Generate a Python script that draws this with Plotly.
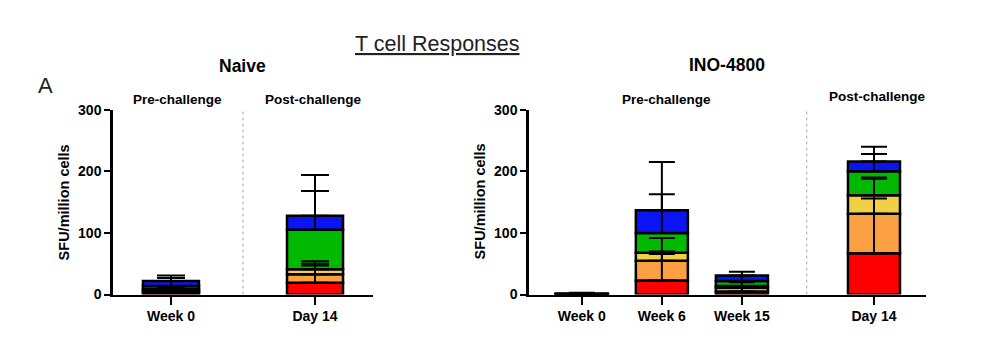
import plotly.graph_objects as go

# ---------------- data ----------------
segment_names = ["Pool 1", "Pool 2", "Pool 3", "Pool 4", "Pool 5"]
segment_colors = ["#FF0000", "#FBA042", "#F2D046", "#00B900", "#0A14F5"]

# Naive group
naive_categories = ["Week 0", "Day 14"]
naive_pool1 = [3, 19]
naive_pool2 = [3, 14]
naive_pool3 = [3, 8]
naive_pool4 = [5, 64]
naive_pool5 = [8, 23]
naive_err1 = [2, 28]
naive_err2 = [2, 17]
naive_err3 = [3, 13]
naive_err4 = [13, 63]
naive_err5 = [9, 66]

# INO-4800 group
ino_categories = ["Week 0", "Week 6", "Week 15", "Day 14"]
ino_pool1 = [0.3, 23, 5, 67]
ino_pool2 = [0.3, 32, 6, 64]
ino_pool3 = [0.3, 13, 3, 30]
ino_pool4 = [0.3, 32, 8, 39]
ino_pool5 = [0.3, 37, 9, 16]
ino_err1 = [0.5, 43, 7, 89]
ino_err2 = [0.5, 37, 9, 57]
ino_err3 = [0.5, 2, 7, 29]
ino_err4 = [0.5, 63, 8, 28]
ino_err5 = [1.5, 78, 6, 24]

y_ticks = [0, 100, 200, 300]

# ---------------- layout constants ----------------
W, H = 989, 357
FONT = "Arial, 'Liberation Sans', sans-serif"
naive_xpos = [0, 1]
ino_xpos = [0, 1, 2, 3.65]

def px(x):
    return x / W

def py(y):
    return (H - y) / H

fig = go.Figure()

def add_group(xpos, segs, errs, xaxis, yaxis, width, capw):
    cum = [0] * len(xpos)
    tops = []
    for name, color, vals in zip(segment_names, segment_colors, segs):
        fig.add_trace(go.Bar(
            x=xpos, y=vals, base=cum[:], name=name, width=width,
            marker=dict(color=color, line=dict(color="black", width=2.5)),
            xaxis=xaxis, yaxis=yaxis, showlegend=False,
        ))
        cum = [c + v for c, v in zip(cum, vals)]
        tops.append(cum[:])
    for top, err in zip(tops, errs):
        fig.add_trace(go.Scatter(
            x=xpos, y=top, mode="markers",
            marker=dict(size=1, color="rgba(0,0,0,0)"),
            error_y=dict(type="data", symmetric=False, array=err,
                         arrayminus=[0] * len(err), color="black",
                         thickness=2, width=capw),
            xaxis=xaxis, yaxis=yaxis, showlegend=False, hoverinfo="skip",
        ))

add_group(naive_xpos,
          [naive_pool1, naive_pool2, naive_pool3, naive_pool4, naive_pool5],
          [naive_err1, naive_err2, naive_err3, naive_err4, naive_err5],
          "x", "y", 0.389, 14)
add_group(ino_xpos,
          [ino_pool1, ino_pool2, ino_pool3, ino_pool4, ino_pool5],
          [ino_err1, ino_err2, ino_err3, ino_err4, ino_err5],
          "x2", "y2", 0.65, 13)

ydom = [py(300), py(106.5)]
axis_common = dict(showgrid=False, zeroline=False, showline=True,
                   linecolor="black", ticks="outside", tickcolor="black",
                   tickfont=dict(family=FONT, size=14, color="black", weight=700))

fig.update_layout(
    width=W, height=H, autosize=False,
    margin=dict(l=0, r=0, t=0, b=0),
    paper_bgcolor="white", plot_bgcolor="white",
    barmode="overlay",
    xaxis=dict(domain=[px(113), px(373)], range=[-0.4025, 1.4025],
               tickvals=naive_xpos, ticktext=naive_categories,
               linewidth=2, ticklen=8, tickwidth=2, anchor="y", **axis_common),
    yaxis=dict(domain=ydom, range=[0, 300], tickvals=y_ticks,
               linewidth=2.5, ticklen=6, tickwidth=2, anchor="x", **axis_common),
    xaxis2=dict(domain=[px(529), px(926)], range=[-0.66, 4.30],
                tickvals=ino_xpos, ticktext=ino_categories,
                linewidth=2, ticklen=8, tickwidth=2, anchor="y2", **axis_common),
    yaxis2=dict(domain=ydom, range=[0, 300], tickvals=y_ticks,
                linewidth=2.5, ticklen=6, tickwidth=2, anchor="x2", **axis_common),
)

# dotted separators between pre/post challenge
fig.add_shape(type="line", xref="x", yref="y", x0=0.5, x1=0.5, y0=0, y1=300,
              line=dict(color="#AAAAAA", width=1, dash="dot"))
fig.add_shape(type="line", xref="x2", yref="y2", x0=2.81, x1=2.81, y0=0, y1=300,
              line=dict(color="#AAAAAA", width=1, dash="dot"))

def ann(text, x, y, size, bold=True, angle=0, color="black"):
    fig.add_annotation(text=text, x=px(x), y=py(y), xref="paper", yref="paper",
                       showarrow=False, xanchor="center", yanchor="middle",
                       textangle=angle,
                       font=dict(family=FONT, size=size, color=color,
                                 weight=700 if bold else 400))

ann("<u>T cell Responses</u>", 437, 38, 21.5, bold=False, color="#222222")
ann("A", 45, 81, 22, bold=False, color="#222222")
ann("Naive", 242.5, 60.5, 17.5)
ann("INO-4800", 727, 60, 17.5)
ann("Pre-challenge", 177, 96, 13.5)
ann("Post-challenge", 313, 96, 13.5)
ann("Pre-challenge", 666, 96, 13.5)
ann("Post-challenge", 877, 92.5, 13.5)
ann("SFU/million cells", 63.5, 203, 14.5, angle=-90)
ann("SFU/million cells", 479.5, 203, 14.5, angle=-90)

fig.write_html(
    "out.html",
    config={"displayModeBar": False},
    post_script="document.body.style.margin='0';document.body.style.padding='0';"
                "document.body.style.overflow='hidden';",
)
